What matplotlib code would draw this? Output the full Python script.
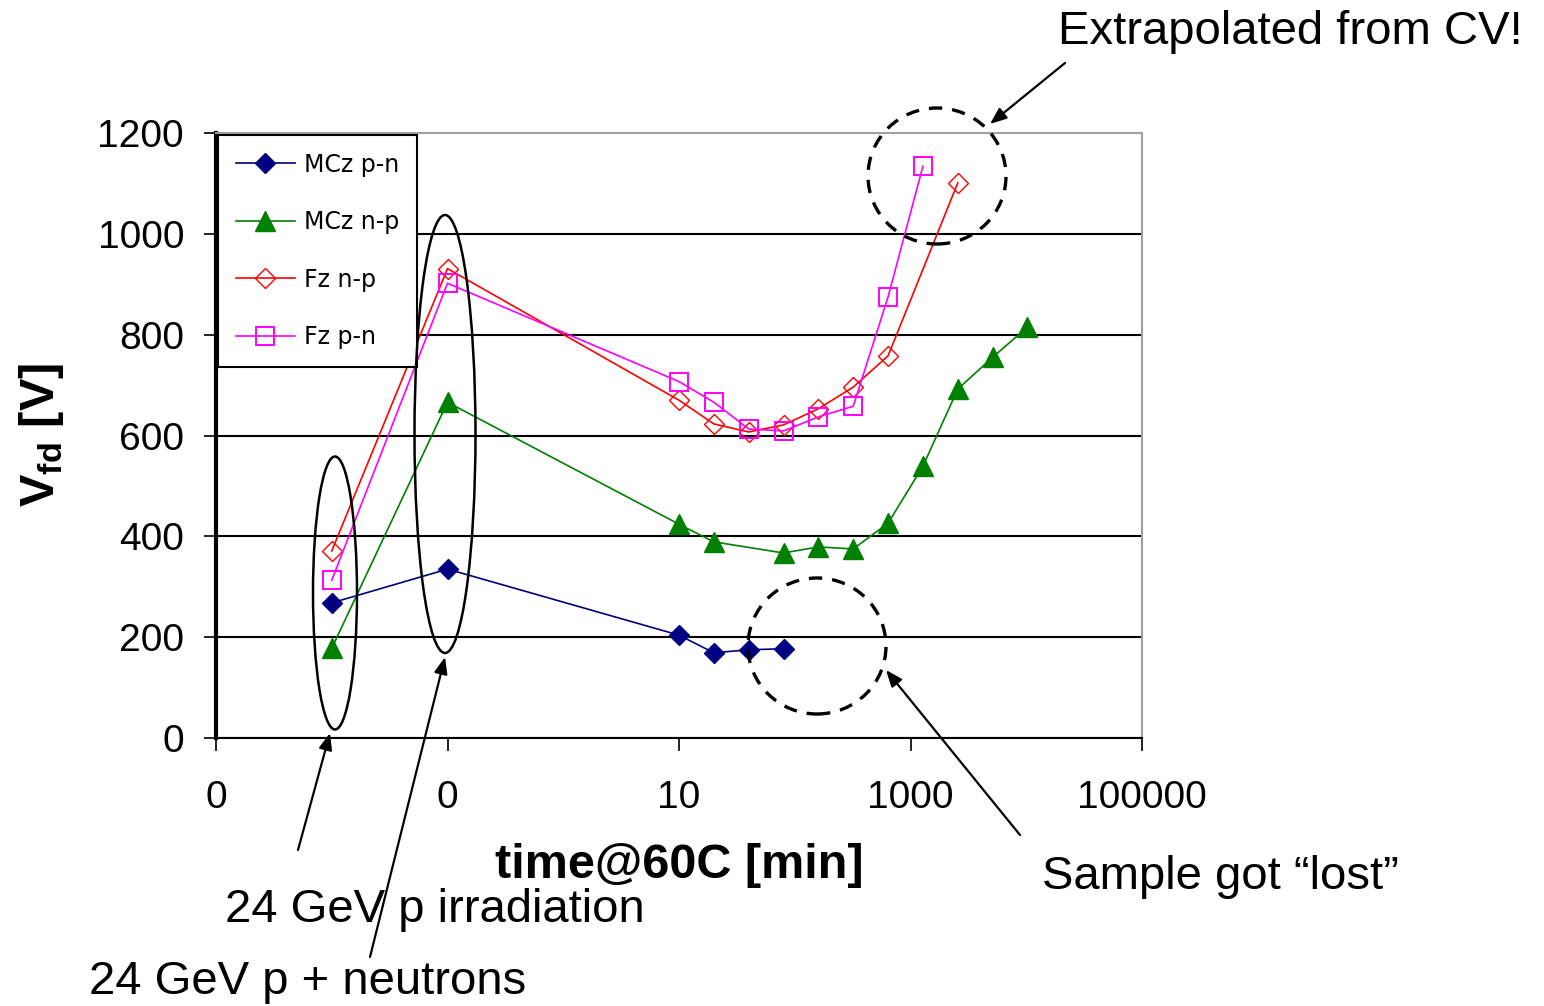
import matplotlib
matplotlib.use("Agg")
import matplotlib.pyplot as plt
from matplotlib.patches import Ellipse

plt.rcParams['font.family'] = ['Liberation Sans', 'DejaVu Sans']
plt.rcParams['mathtext.fontset'] = 'custom'
plt.rcParams['mathtext.rm'] = 'Liberation Sans'
plt.rcParams['mathtext.bf'] = 'Liberation Sans:bold'

# data (time in min at 60C, Vfd in V)
mcz_pn_t = [0.01, 0.1, 10, 20, 40, 80]
mcz_pn_v = [268, 335, 204, 169, 175, 177]

mcz_np_t = [0.01, 0.1, 10, 20, 80, 160, 320, 640, 1280, 2560, 5120, 10240]
mcz_np_v = [178, 666, 424, 389, 367, 379, 375, 426, 539, 692, 755, 815]

fz_np_t = [0.01, 0.1, 10, 20, 40, 80, 160, 320, 640, 2560]
fz_np_v = [371, 931, 670, 623, 607, 621, 653, 696, 758, 1101]

fz_pn_t = [0.01, 0.1, 10, 20, 40, 80, 160, 320, 640, 1280]
fz_pn_v = [313, 902, 707, 666, 613, 609, 637, 658, 875, 1134]

x_ticks = [0.001, 0.1, 10, 1000, 100000]
x_ticklabels = ["0", "0", "10", "1000", "100000"]
y_ticks = [0, 200, 400, 600, 800, 1000, 1200]

W, H = 1544, 1006
fig = plt.figure(figsize=(W / 100, H / 100), dpi=100)
ax = fig.add_axes([216 / W, 268 / H, 926 / W, 605 / H])


def fx(x, y):
    # figure pixel (from top-left) -> figure fraction
    return (x / W, 1 - y / H)


ax.plot(mcz_pn_t, mcz_pn_v, color='#000080', lw=1.2, marker='D', ms=10.5,
        mfc='#000080', mec='#000080', label='MCz p-n', zorder=4)
ax.plot(mcz_np_t, mcz_np_v, color='#008000', lw=1.2, marker='^', ms=14,
        mfc='#008000', mec='#008000', label='MCz n-p', zorder=4)
ax.plot(fz_np_t, fz_np_v, color='#ff0000', lw=1.2, marker='D', ms=10.5,
        mfc='none', mec='#ff0000', mew=1.0, label='Fz n-p', zorder=5)
ax.plot(fz_pn_t, fz_pn_v, color='#ff00ff', lw=1.2, marker='s', ms=12.5,
        mfc='none', mec='#ff00ff', mew=1.4, label='Fz p-n', zorder=5)

ax.set_xscale('log')
ax.set_xlim(0.001, 100000)
ax.set_ylim(0, 1200)
ax.set_xticks(x_ticks)
ax.set_xticklabels(x_ticklabels)
ax.xaxis.set_minor_locator(matplotlib.ticker.NullLocator())
ax.set_yticks(y_ticks)
ax.tick_params(axis='y', labelsize=28, length=9, width=1.2, pad=14, direction='out')
ax.tick_params(axis='x', labelsize=28, length=9, width=1.2, pad=21, direction='out')

ax.grid(axis='y', color='black', lw=1.5, zorder=1)
ax.yaxis.get_gridlines()[-1].set_visible(False)
ax.set_axisbelow(True)

ax.spines['left'].set_linewidth(3)
ax.spines['bottom'].set_linewidth(1.5)
for s in ['top', 'right']:
    ax.spines[s].set_color('#a0a0a0')
    ax.spines[s].set_linewidth(1.5)

leg = ax.legend(loc='upper left', bbox_to_anchor=(0.002, 0.997), borderaxespad=0,
                prop={'family': 'DejaVu Sans', 'size': 17}, frameon=True,
                fancybox=False, framealpha=1, edgecolor='black',
                handlelength=2.5, handletextpad=0.4, borderpad=0.75,
                labelspacing=1.42)
leg.get_frame().set_linewidth(1.5)

# axis titles
fig.text(*fx(679, 866), 'time@60C [min]', ha='center', va='center',
         fontsize=35, fontweight='bold')
fig.text(*fx(42, 435), r'V$_\mathbf{fd}$ [V]', ha='center', va='center',
         rotation=90, fontsize=35, fontweight='bold')

# ellipses and circles
ell = [(335, 593, 44, 273), (445, 434, 61, 438)]
for cx, cy, w, h in ell:
    fig.add_artist(Ellipse(fx(cx, cy), w / W, h / H, fill=False, ec='black',
                           lw=1.8, transform=fig.transFigure))
for cx, cy in [(937, 176), (817, 646)]:
    fig.add_artist(Ellipse(fx(cx, cy), 138 / W, 136 / H, fill=False, ec='black',
                           lw=2.4, ls=(0, (4, 3)), transform=fig.transFigure))

# arrows and notes
arrows = [((1065, 63), (990, 124)), ((1020, 835), (886, 670)),
          ((298, 850), (330, 733)), ((370, 957), (445, 657))]
for (x0, y0), (x1, y1) in arrows:
    ax.annotate('', xy=(x1, H - y1), xycoords='figure pixels',
                xytext=(x0, H - y0), textcoords='figure pixels',
                arrowprops=dict(arrowstyle='-|>,head_length=1.0,head_width=0.4',
                                color='black', lw=1.6, shrinkA=0, shrinkB=0),
                annotation_clip=False)

fig.text(*fx(1290, 32), 'Extrapolated from CV!', ha='center', va='center', fontsize=34)
fig.text(*fx(1220, 877), 'Sample got \u201clost\u201d', ha='center', va='center', fontsize=34)
fig.text(*fx(435, 910), '24 GeV p irradiation', ha='center', va='center', fontsize=34)
fig.text(*fx(308, 982), '24 GeV p + neutrons', ha='center', va='center', fontsize=34)

fig.savefig('out.png', dpi=100)
